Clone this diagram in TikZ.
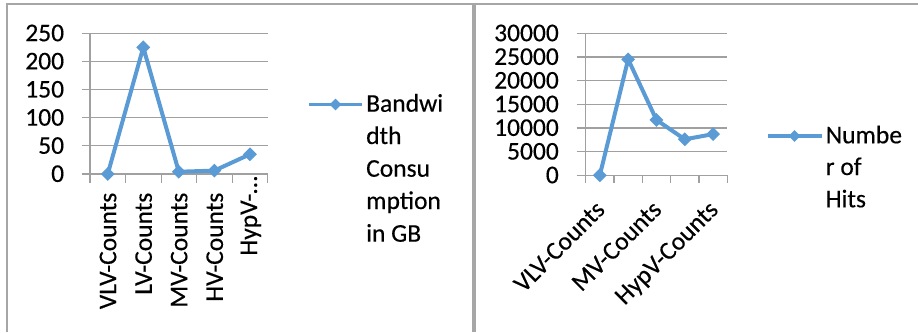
\documentclass[tikz,border=0pt]{standalone}
\usepackage{fontspec}
\setmainfont{Carlito}
\newfontfamily\chartface{Carlito}[UprightFeatures={FakeBold=0.35}]
\usetikzlibrary{shapes.geometric}
\definecolor{series}{HTML}{5B9BD5}
\definecolor{gridgray}{HTML}{A0A0A0}
\definecolor{framegray}{HTML}{A6A6A6}
\tikzset{
  chartfont/.style={font=\chartface\fontsize{25.5}{32.5}\selectfont},
  frameline/.style={draw=framegray, line width=1.3pt},
  gridline/.style={draw=gridgray, line width=1.1pt},
  seriesline/.style={draw=series, line width=4pt, line join=round},
  legendline/.style={draw=series, line width=3.4pt},
  marker/.style={diamond, shape aspect=1, fill=series, inner sep=0pt, minimum size=14pt},
  legendmarker/.style={diamond, shape aspect=1, fill=series, inner sep=0pt, minimum size=12pt},
  ylab/.style={chartfont, anchor=base east, inner sep=0pt},
  catlab/.style={chartfont, anchor=base east, inner sep=0pt},
  legtext/.style={chartfont, anchor=base west, inner sep=0pt},
}
\begin{document}
\begin{tikzpicture}[x=1pt, y=-1pt]
\useasboundingbox (0,0) rectangle (918,332);

% panel frames
\draw[frameline] (7,332) -- (7,4) -- (473,4) -- (473,332);
\draw[frameline] (475,332) -- (475,4) -- (918,4);

% ---------- left chart: bandwidth consumption ----------
\foreach \k/\lab in {0/0,1/50,2/100,3/150,4/200,5/250}{
  \pgfmathsetmacro{\yy}{174-\k*28.14}
  \draw[gridline] (81.7,\yy) -- (267.7,\yy);
  \node[ylab] (ly\k) at (64.3,\yy+7.9) {\lab};
}
\draw[gridline] (90,33.3) -- (90,182.7);
\foreach \k in {1,...,5}{
  \draw[gridline] (90+\k*35.54,174) -- (90+\k*35.54,182.7);
}
\foreach \i/\v in {1/0,2/225,3/4,4/6,5/35}{
  \coordinate (a\i) at (72.2+\i*35.54, 174-\v*0.5628);
}
\draw[seriesline] (a1) -- (a2) -- (a3) -- (a4) -- (a5);
\foreach \i in {1,...,5}{ \node[marker] (ma\i) at (a\i) {}; }

\node[catlab, rotate=90] (lc1) at (116.2,192.5) {VLV-Counts};
\node[catlab, rotate=90] (lc2) at (151.8,192.5) {LV-Counts};
\node[catlab, rotate=90] (lc3) at (187.3,192.5) {MV-Counts};
\node[catlab, rotate=90] (lc4) at (222.9,192.5) {HV-Counts};
\node[catlab, rotate=90] (lc5) at (257,176) {HypV-…};

% legend
\coordinate (lla) at (309,104.5);
\coordinate (llb) at (362,104.5);
\draw[legendline] (lla) -- (llb);
\node[legendmarker] (llm) at (335.5,104.5) {};
\node[legtext] (lt1) at (366,111.7) {Bandwi};
\node[legtext] (lt2) at (366,144) {dth};
\node[legtext] (lt3) at (366,176.7) {Consu};
\node[legtext] (lt4) at (366,209) {mption};
\node[legtext] (lt5) at (366,241.7) {in GB};

% ---------- right chart: number of hits (values in thousands) ----------
\foreach \k/\lab in {0/0,1/5000,2/10000,3/15000,4/20000,5/25000,6/30000}{
  \pgfmathsetmacro{\yy}{175.3-\k*23.67}
  \draw[gridline] (576.7,\yy) -- (727.3,\yy);
  \node[ylab] (ry\k) at (559,\yy+7.9) {\lab};
}
\draw[gridline] (585.7,33.3) -- (585.7,182.7);
\foreach \k in {1,...,5}{
  \draw[gridline] (585.7+\k*28.32,175.3) -- (585.7+\k*28.32,182.7);
}
\foreach \i/\v in {1/0,2/24.5,3/11.7,4/7.6,5/8.7}{
  \coordinate (b\i) at (571.5+\i*28.32, 175.3-\v*4.733);
}
\draw[seriesline] (b1) -- (b2) -- (b3) -- (b4) -- (b5);
\foreach \i in {1,...,5}{ \node[marker] (mb\i) at (b\i) {}; }

\node[catlab, rotate=45] (rc1) at (606.3,211) {VLV-Counts};
\node[catlab, rotate=45] (rc3) at (663,211) {MV-Counts};
\node[catlab, rotate=45] (rc5) at (719.6,211) {HypV-Counts};

% legend
\coordinate (rla) at (768.3,136);
\coordinate (rlb) at (821.7,136);
\draw[legendline] (rla) -- (rlb);
\node[legendmarker] (rlm) at (794.5,136) {};
\node[legtext] (rt1) at (825.5,143.3) {Numbe};
\node[legtext] (rt2) at (825.5,175) {r of};
\node[legtext] (rt3) at (825.5,207.3) {Hits};
\end{tikzpicture}
\end{document}
